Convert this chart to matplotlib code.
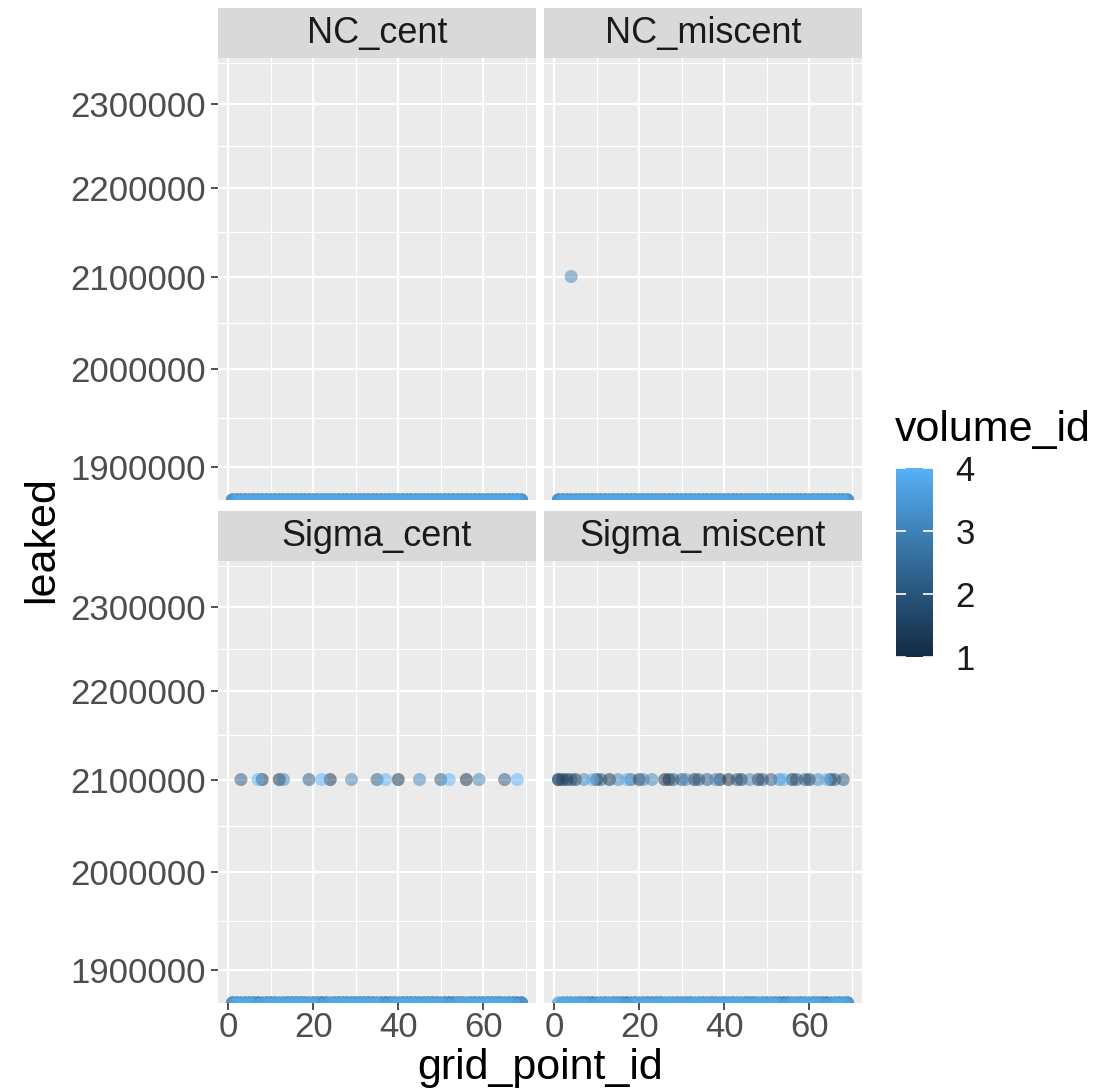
import numpy as np
import matplotlib
matplotlib.use("Agg")
import matplotlib.pyplot as plt
from matplotlib.colors import LinearSegmentedColormap, Normalize
from matplotlib.cm import ScalarMappable
from matplotlib.ticker import FixedLocator, FuncFormatter, NullFormatter

plt.rcParams['font.family'] = ['Liberation Sans', 'DejaVu Sans']

panels = ["NC_cent", "NC_miscent", "Sigma_cent", "Sigma_miscent"]
grid_ids = list(range(1, 70))
volume_ids = [1, 2, 3, 4]
hit_value = 2100000

# (grid_point_id, volume_id) that leaked 2100000, every other combination leaked 0
hits = {
    "NC_cent": [],
    "NC_miscent": [(4, 3)],
    "Sigma_cent": [(3, 2), (7, 4), (8, 1), (12, 1), (13, 3), (19, 2), (22, 4),
                   (24, 1), (29, 3), (35, 2), (37, 4), (40, 1), (45, 3), (50, 2),
                   (52, 4), (56, 1), (59, 3), (65, 2), (68, 4)],
    "Sigma_miscent": [(1, 1), (1, 2), (2, 1), (3, 1), (4, 2), (5, 1), (7, 3),
                      (9, 4), (10, 1), (11, 2), (13, 1), (15, 3), (17, 4), (18, 2),
                      (20, 1), (21, 3), (23, 3), (26, 1), (27, 1), (28, 2), (30, 2),
                      (31, 3), (33, 1), (34, 2), (36, 2), (38, 3), (39, 1), (41, 1),
                      (43, 2), (44, 1), (46, 3), (48, 1), (49, 2), (51, 2), (53, 3),
                      (54, 4), (56, 1), (57, 2), (59, 2), (60, 1), (62, 3), (64, 4),
                      (65, 1), (66, 2), (68, 2)],
}

y_major = [1900000, 2000000, 2100000, 2200000, 2300000]
y_lim = (1867000, 2356000)
x_major = [0, 20, 40, 60]
x_minor = [10, 30, 50, 70]
x_lim = (-2.4, 72.4)

W, H = 1118, 1092
fig = plt.figure(figsize=(W / 100, H / 100), dpi=100)

cmap = LinearSegmentedColormap.from_list("gg", ["#132B43", "#336A98", "#56B1F7"])
norm = Normalize(1, 4)


def box(x0, y0, x1, y1):
    return [x0 / W, 1 - y1 / H, (x1 - x0) / W, (y1 - y0) / H]


cols = [(218, 536), (544, 862)]
rows = [(8, 58, 500), (511, 561, 1003)]

y_minor = [np.sqrt(a * b) for a, b in zip(y_major, y_major[1:] + [2400000])]

for i, name in enumerate(panels):
    r, c = divmod(i, 2)
    x0, x1 = cols[c]
    s0, s1, p1 = rows[r]

    sax = fig.add_axes(box(x0, s0, x1, s1))
    sax.set_facecolor("#D9D9D9")
    sax.set_xticks([])
    sax.set_yticks([])
    for sp in sax.spines.values():
        sp.set_visible(False)
    sax.text(0.5, 0.48, name, ha="center", va="center", fontsize=26,
             color="#1A1A1A", transform=sax.transAxes)

    ax = fig.add_axes(box(x0, s1, x1, p1))
    ax.set_facecolor("#EBEBEB")
    for sp in ax.spines.values():
        sp.set_visible(False)
    ax.set_yscale("log")
    ax.set_xlim(*x_lim)
    ax.set_ylim(*y_lim)
    ax.yaxis.set_major_locator(FixedLocator(y_major))
    ax.yaxis.set_minor_locator(FixedLocator(y_minor))
    ax.yaxis.set_major_formatter(FuncFormatter(lambda v, p: f"{int(round(v))}"))
    ax.yaxis.set_minor_formatter(NullFormatter())
    ax.xaxis.set_major_locator(FixedLocator(x_major))
    ax.xaxis.set_minor_locator(FixedLocator(x_minor))
    ax.set_axisbelow(True)
    ax.grid(which="major", color="white", linewidth=1.6)
    ax.grid(which="minor", color="white", linewidth=0.8)
    ax.tick_params(which="minor", length=0)
    ax.tick_params(which="major", length=5, width=1.2, color="#333333",
                   labelcolor="#4D4D4D", labelsize=25, pad=4)
    ax.tick_params(axis="x", which="major", pad=1)
    if c == 1:
        ax.tick_params(labelleft=False, left=False)
    if r == 0:
        ax.tick_params(labelbottom=False, bottom=False)

    hit_set = set(hits[name])
    xs, ys, vs = [], [], []
    for v in volume_ids:
        for g in grid_ids:
            leaked = hit_value if (g, v) in hit_set else 0
            xs.append(g)
            ys.append(leaked)
            vs.append(v)
    xs = np.array(xs)
    ys = np.array(ys, dtype=float)
    vs = np.array(vs)
    # log10(0) = -Inf is drawn on the panel edge, as ggplot does
    ys_draw = np.where(ys > 0, ys, y_lim[0])
    # zeros first, hits on top
    order = np.argsort(ys > 0, kind="stable")
    ax.scatter(xs[order], ys_draw[order], c=vs[order], cmap=cmap, norm=norm,
               s=88, alpha=0.5, linewidths=0, clip_on=True)

fig.text(42 / W, 1 - 540 / H, "leaked", rotation=90, ha="center", va="center",
         fontsize=31)
fig.text(540 / W, 1 - 1068 / H, "grid_point_id", ha="center", va="center",
         fontsize=31)

cax = fig.add_axes(box(896, 468, 933, 657))
sm = ScalarMappable(norm=norm, cmap=cmap)
cb = fig.colorbar(sm, cax=cax, ticks=[1, 2, 3, 4])
cb.outline.set_visible(False)
cb.minorticks_off()
cax.tick_params(which="major", direction="in", length=7, width=1.2, color="white",
                left=True, right=True, labelsize=25, labelcolor="#1A1A1A", pad=16)
fig.text(895 / W, 1 - 430 / H, "volume_id", ha="left", va="center", fontsize=31)

fig.savefig("out.png", dpi=100, facecolor="white")
